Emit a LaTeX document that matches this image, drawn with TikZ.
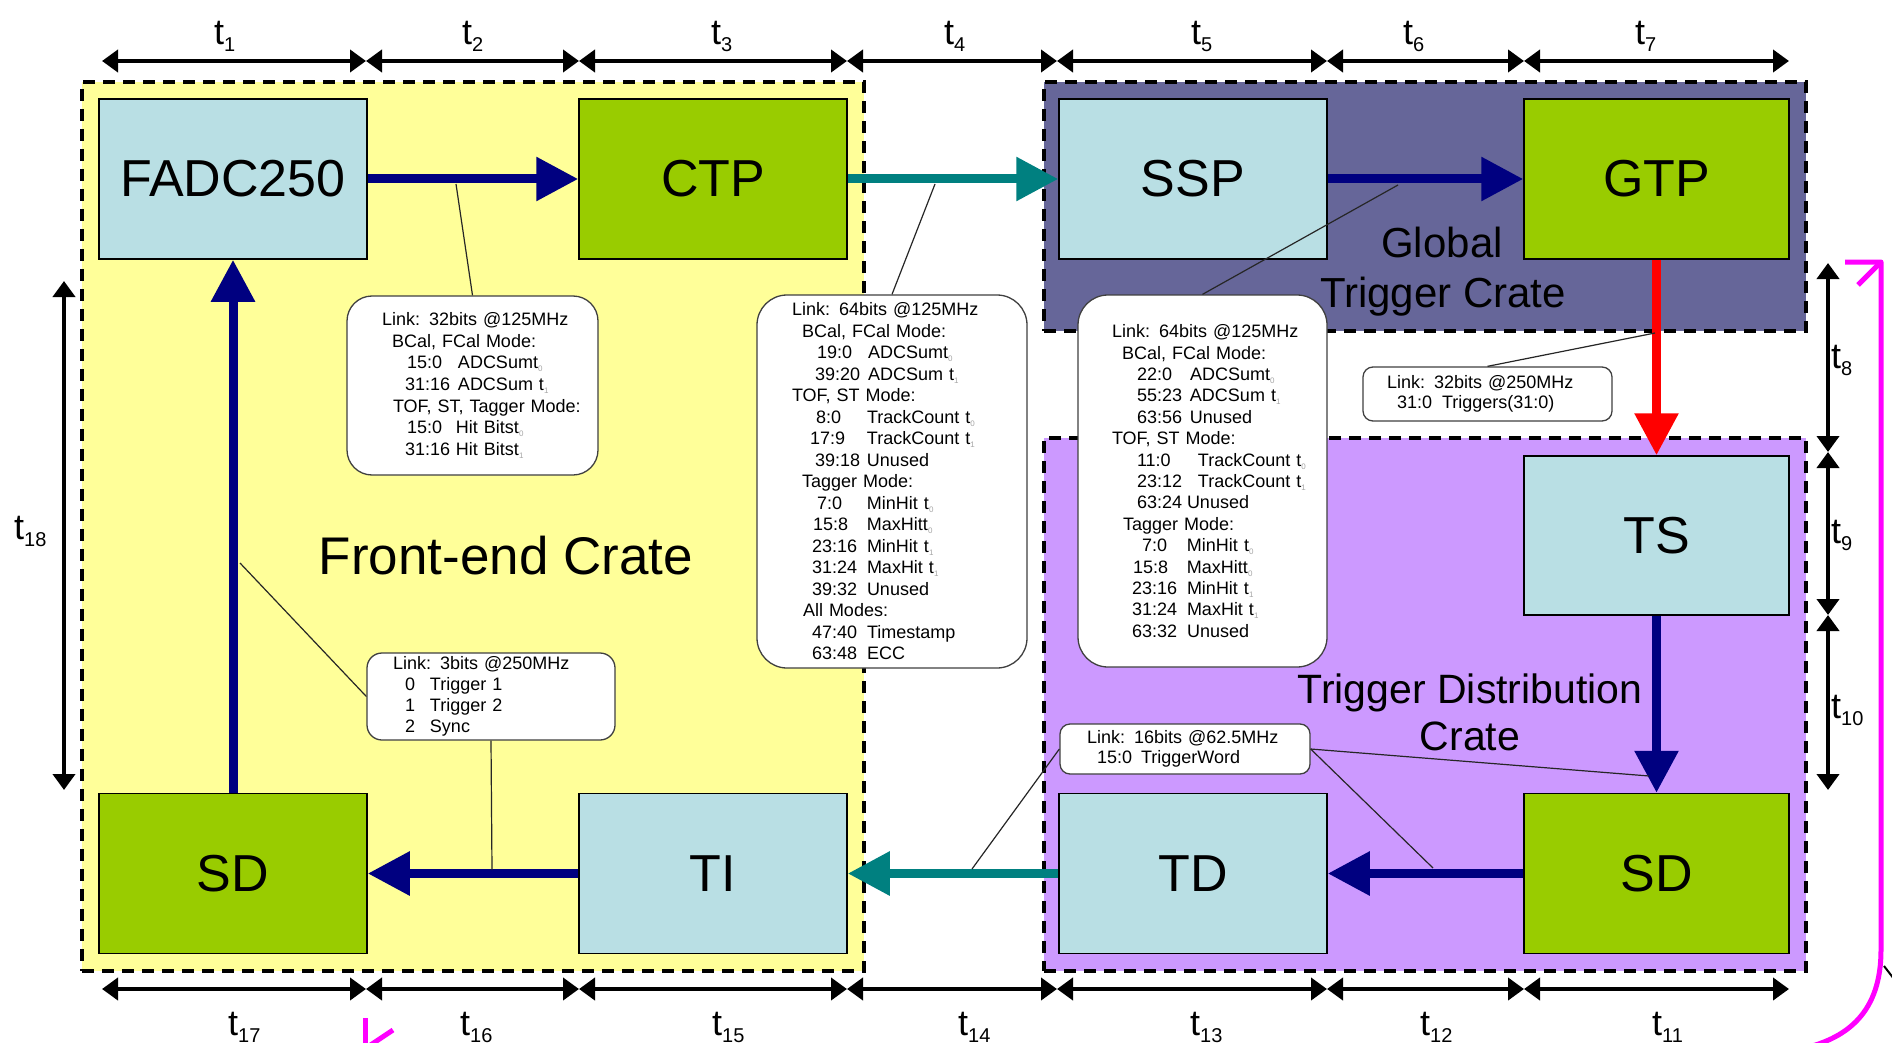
\documentclass[tikz,border=0pt]{standalone}
\usepackage{fontspec}
\setmainfont{Liberation Sans}
\usetikzlibrary{arrows.meta}

\definecolor{crateY}{HTML}{FFFF99}
\definecolor{crateG}{HTML}{666699}
\definecolor{crateT}{HTML}{CC99FF}
\definecolor{boxB}{HTML}{B9DFE4}
\definecolor{boxG}{HTML}{99CC00}
\definecolor{navyA}{HTML}{000080}
\definecolor{tealA}{HTML}{008080}
\definecolor{magA}{HTML}{FF00FF}

\newcommand\tlab[1]{t\raisebox{-7pt}{\fontsize{20}{20}\selectfont #1}}
\newcommand\gsb[1]{\raisebox{-3pt}{\fontsize{8}{8}\selectfont\color{black!35}#1}}
\newcommand\Lx[2]{\hspace*{#1pt}#2}
\newcommand\Lc[4]{\hspace*{#1pt}\makebox[\dimexpr#2pt-#1pt\relax][l]{#3}#4}

\begin{document}
\begin{tikzpicture}[x=1pt,y=-1pt,
  crate/.style={draw=black, line width=3.5pt, dash pattern=on 12pt off 8pt, inner sep=0pt},
  unit/.style={draw=black, line width=1.5pt, minimum width=268pt, minimum height=160pt, inner sep=0pt, font=\fontsize{52}{60}\selectfont},
  fat/.style={line width=9pt, -{Triangle[length=42pt,width=42pt]}},
  tarr/.style={line width=4pt, {Triangle[length=16pt,width=22pt]}-{Triangle[length=16pt,width=22pt]}},
  tlbl/.style={inner sep=0pt, font=\fontsize{36}{36}\selectfont},
  lead/.style={draw=black!85, line width=1.2pt},
  callout/.style={draw=black!75, fill=white, line width=1.3pt, inner sep=0pt, align=left},
  cratelbl/.style={inner sep=0pt},
  mag/.style={draw=magA, line width=5pt}
]
\useasboundingbox (0,0) rectangle (1892,1043);
\fill[white] (0,0) rectangle (1892,1043);

% crates
\node[crate, fill=crateY, minimum width=782pt, minimum height=889pt] (fec) at (473,526.5) {};
\node[crate, fill=crateG, minimum width=762pt, minimum height=249pt] (gtc) at (1425,206.5) {};
\node[crate, fill=crateT, minimum width=762pt, minimum height=533pt] (tdc) at (1425,704.5) {};

% crate labels
\node[cratelbl, anchor=base, font=\fontsize{53}{60}\selectfont] (fecl) at (506,574) {Front-end Crate};
\node[cratelbl, anchor=base, font=\fontsize{42}{50}\selectfont] (gtcl1) at (1442,257) {Global};
\node[cratelbl, anchor=base, font=\fontsize{42}{50}\selectfont] (gtcl2) at (1443,307) {Trigger Crate};
\node[cratelbl, anchor=base, font=\fontsize{41}{50}\selectfont] (tdcl1) at (1470,703) {Trigger Distribution};
\node[cratelbl, anchor=base, font=\fontsize{41}{50}\selectfont] (tdcl2) at (1470,750) {Crate};

% timing coordinates
\coordinate (ta0) at (102,61);  \coordinate (ta1) at (366,61);
\coordinate (ta2) at (579,61);  \coordinate (ta3) at (847,61);
\coordinate (ta4) at (1057,61); \coordinate (ta5) at (1327,61);
\coordinate (ta6) at (1524,61); \coordinate (ta7) at (1789,61);
\coordinate (tb0) at (102,989);  \coordinate (tb1) at (366,989);
\coordinate (tb2) at (579,989);  \coordinate (tb3) at (847,989);
\coordinate (tb4) at (1057,989); \coordinate (tb5) at (1327,989);
\coordinate (tb6) at (1524,989); \coordinate (tb7) at (1789,989);
\coordinate (tr0) at (1828,263); \coordinate (tr1) at (1828,452);
\coordinate (tr2) at (1828,615); \coordinate (tr3) at (1828,790);
\coordinate (tl0) at (64,281);   \coordinate (tl1) at (64,790);

\draw[tarr] (ta0) -- (ta1); \draw[tarr] (ta1) -- (ta2);
\draw[tarr] (ta2) -- (ta3); \draw[tarr] (ta3) -- (ta4);
\draw[tarr] (ta4) -- (ta5); \draw[tarr] (ta5) -- (ta6);
\draw[tarr] (ta6) -- (ta7);
\draw[tarr] (tb0) -- (tb1); \draw[tarr] (tb1) -- (tb2);
\draw[tarr] (tb2) -- (tb3); \draw[tarr] (tb3) -- (tb4);
\draw[tarr] (tb4) -- (tb5); \draw[tarr] (tb5) -- (tb6);
\draw[tarr] (tb6) -- (tb7);
\draw[tarr] (tr0) -- (tr1); \draw[tarr] (tr1) -- (tr2);
\draw[tarr] (tr2) -- (tr3);
\draw[tarr] (tl0) -- (tl1);

% timing labels
\node[tlbl, anchor=base west] (lt1) at (214,45) {\tlab{1}};
\node[tlbl, anchor=base west] (lt2) at (462,45) {\tlab{2}};
\node[tlbl, anchor=base west] (lt3) at (711,45) {\tlab{3}};
\node[tlbl, anchor=base west] (lt4) at (944,45) {\tlab{4}};
\node[tlbl, anchor=base west] (lt5) at (1191,45) {\tlab{5}};
\node[tlbl, anchor=base west] (lt6) at (1403,45) {\tlab{6}};
\node[tlbl, anchor=base west] (lt7) at (1635,45) {\tlab{7}};
\node[tlbl, anchor=base west] (lt8) at (1831,368) {\tlab{8}};
\node[tlbl, anchor=base west] (lt9) at (1831,543) {\tlab{9}};
\node[tlbl, anchor=base west] (lt10) at (1831,718) {\tlab{10}};
\node[tlbl, anchor=base west] (lt11) at (1652,1035) {\tlab{11}};
\node[tlbl, anchor=base west] (lt12) at (1420,1035) {\tlab{12}};
\node[tlbl, anchor=base west] (lt13) at (1190,1035) {\tlab{13}};
\node[tlbl, anchor=base west] (lt14) at (958,1035) {\tlab{14}};
\node[tlbl, anchor=base west] (lt15) at (712,1035) {\tlab{15}};
\node[tlbl, anchor=base west] (lt16) at (460,1035) {\tlab{16}};
\node[tlbl, anchor=base west] (lt17) at (228,1035) {\tlab{17}};
\node[tlbl, anchor=base west] (lt18) at (14,539) {\tlab{18}};

% units
\node[unit, fill=boxB] (fadc) at (233,179) {FADC250};
\node[unit, fill=boxG] (ctp) at (713,179) {CTP};
\node[unit, fill=boxB] (ssp) at (1193,179) {SSP};
\node[unit, fill=boxG, minimum width=265pt] (gtp) at (1656.5,179) {GTP};
\node[unit, fill=boxB, minimum width=265pt, minimum height=159pt] (ts) at (1656.5,535.5) {TS};
\node[unit, fill=boxG] (sdl) at (233,873.5) {SD};
\node[unit, fill=boxB] (ti) at (713,873.5) {TI};
\node[unit, fill=boxB] (td) at (1193,873.5) {TD};
\node[unit, fill=boxG, minimum width=265pt] (sdr) at (1656.5,873.5) {SD};

% links
\draw[fat, navyA] (fadc.east) -- (ctp.west);
\draw[fat, tealA] (ctp.east) -- (ssp.west);
\draw[fat, navyA] (ssp.east) -- (gtp.west);
\draw[fat, red] (gtp.south) -- (ts.north);
\draw[fat, navyA] (ts.south) -- (sdr.north);
\draw[fat, navyA] (sdr.west) -- (td.east);
\draw[fat, tealA] (td.west) -- (ti.east);
\draw[fat, navyA] (ti.west) -- (sdl.east);
\draw[fat, navyA] (sdl.north) -- (fadc.south);

% callouts
\node[callout, text width=251pt, minimum height=179pt, rounded corners=25pt,
      font=\fontsize{18}{21.7}\selectfont] (c1) at (472.5,385.5) {%
\Lx{35}{Link: 32bits @125MHz}\\
\Lx{45}{BCal, FCal Mode:}\\
\Lc{60}{111}{15:0}{ADCSumt\gsb0}\\
\Lc{58}{111}{31:16}{ADCSum t\gsb1}\\
\Lx{46}{TOF, ST, Tagger Mode:}\\
\Lc{60}{109}{15:0}{Hit Bitst\gsb0}\\
\Lc{58}{109}{31:16}{Hit Bitst\gsb1}};

\node[callout, text width=270pt, minimum height=373pt, rounded corners=30pt,
      font=\fontsize{18}{21.5}\selectfont] (c2) at (892,481.5) {%
\Lx{35}{Link: 64bits @125MHz}\\
\Lx{45}{BCal, FCal Mode:}\\
\Lc{60}{111}{19:0}{ADCSumt\gsb0}\\
\Lc{58}{111}{39:20}{ADCSum t\gsb1}\\
\Lx{35}{TOF, ST Mode:}\\
\Lc{59}{110}{8:0}{TrackCount t\gsb0}\\
\Lc{53}{110}{17:9}{TrackCount t\gsb1}\\
\Lc{58}{110}{39:18}{Unused}\\
\Lx{45}{Tagger Mode:}\\
\Lc{60}{110}{7:0}{MinHit t\gsb0}\\
\Lc{56}{110}{15:8}{MaxHitt\gsb0}\\
\Lc{55}{110}{23:16}{MinHit t\gsb1}\\
\Lc{55}{110}{31:24}{MaxHit t\gsb1}\\
\Lc{55}{110}{39:32}{Unused}\\
\Lx{46}{All Modes:}\\
\Lc{55}{110}{47:40}{Timestamp}\\
\Lc{55}{110}{63:48}{ECC}};

\node[callout, text width=249pt, minimum height=372pt, rounded corners=30pt,
      font=\fontsize{18}{21.4}\selectfont] (c3) at (1202.5,481) {%
\Lx{34}{Link: 64bits @125MHz}\\
\Lx{44}{BCal, FCal Mode:}\\
\Lc{59}{112}{22:0}{ADCSumt\gsb0}\\
\Lc{59}{112}{55:23}{ADCSum t\gsb1}\\
\Lc{59}{112}{63:56}{Unused}\\
\Lx{34}{TOF, ST Mode:}\\
\Lc{59}{120}{11:0}{TrackCount t\gsb0}\\
\Lc{59}{120}{23:12}{TrackCount t\gsb1}\\
\Lc{59}{109}{63:24}{Unused}\\
\Lx{45}{Tagger Mode:}\\
\Lc{64}{109}{7:0}{MinHit t\gsb0}\\
\Lc{55}{109}{15:8}{MaxHitt\gsb0}\\
\Lc{54}{109}{23:16}{MinHit t\gsb1}\\
\Lc{54}{109}{31:24}{MaxHit t\gsb1}\\
\Lc{54}{109}{63:32}{Unused}};

\node[callout, text width=249pt, minimum height=54pt, rounded corners=10pt,
      font=\fontsize{18}{20}\selectfont] (c4) at (1487.5,394) {%
\Lx{24}{Link: 32bits @250MHz}\\
\Lc{34}{79}{31:0}{Triggers(31:0)}};

\node[callout, text width=248pt, minimum height=87pt, rounded corners=15pt,
      font=\fontsize{18}{21}\selectfont] (c5) at (491,696.5) {%
\Lx{26}{Link: 3bits @250MHz}\\
\Lc{38}{63}{0}{Trigger 1}\\
\Lc{38}{63}{1}{Trigger 2}\\
\Lc{38}{63}{2}{Sync}};

\node[callout, text width=250pt, minimum height=50pt, rounded corners=10pt,
      font=\fontsize{18}{20}\selectfont] (c6) at (1185,749) {%
\Lx{27}{Link: 16bits @62.5MHz}\\
\Lc{37}{81}{15:0}{TriggerWord}};

% leader lines
\coordinate (l1) at (456,184);
\coordinate (l2) at (935,184);
\coordinate (l3) at (1398,185);
\coordinate (l4) at (1655,333);
\coordinate (l5a) at (240,563);
\coordinate (l5b) at (492,870);
\coordinate (l6a) at (972,869);
\coordinate (l6b) at (1649,776);
\coordinate (l6c) at (1433,868);
\draw[lead] (l1) -- (c1.north);
\draw[lead] (l2) -- (c2.north);
\draw[lead] (l3) -- (c3.north);
\draw[lead] (l4) -- (c4.north);
\draw[lead] (l5a) -- (c5.west);
\draw[lead] (l5b) -- (c5.south);
\draw[lead] (l6a) -- (c6.west);
\draw[lead] (l6b) -- (c6.east);
\draw[lead] (l6c) -- (c6.east);

% magenta fragments at the edge
\coordinate (m1) at (1845,262);
\coordinate (m2) at (1881,262);
\coordinate (m3) at (1881,950);
\coordinate (m4) at (1795,1050);
\coordinate (m5) at (1858,285);
\coordinate (m6) at (1880,263);
\draw[mag, line join=round] (m1) -- (m2) -- (m3) .. controls (1881,1010) and (1850,1040) .. (m4);
\draw[mag] (m5) -- (m6);
\coordinate (m7) at (365,1018);
\coordinate (m8) at (365,1050);
\coordinate (m9) at (369,1046);
\coordinate (m10) at (393,1030);
\draw[mag] (m7) -- (m8);
\draw[mag] (m9) -- (m10);
\coordinate (k1) at (1884,966);
\coordinate (k2) at (1894,979);
\draw[line width=2pt] (k1) -- (k2);
\end{tikzpicture}
\end{document}
